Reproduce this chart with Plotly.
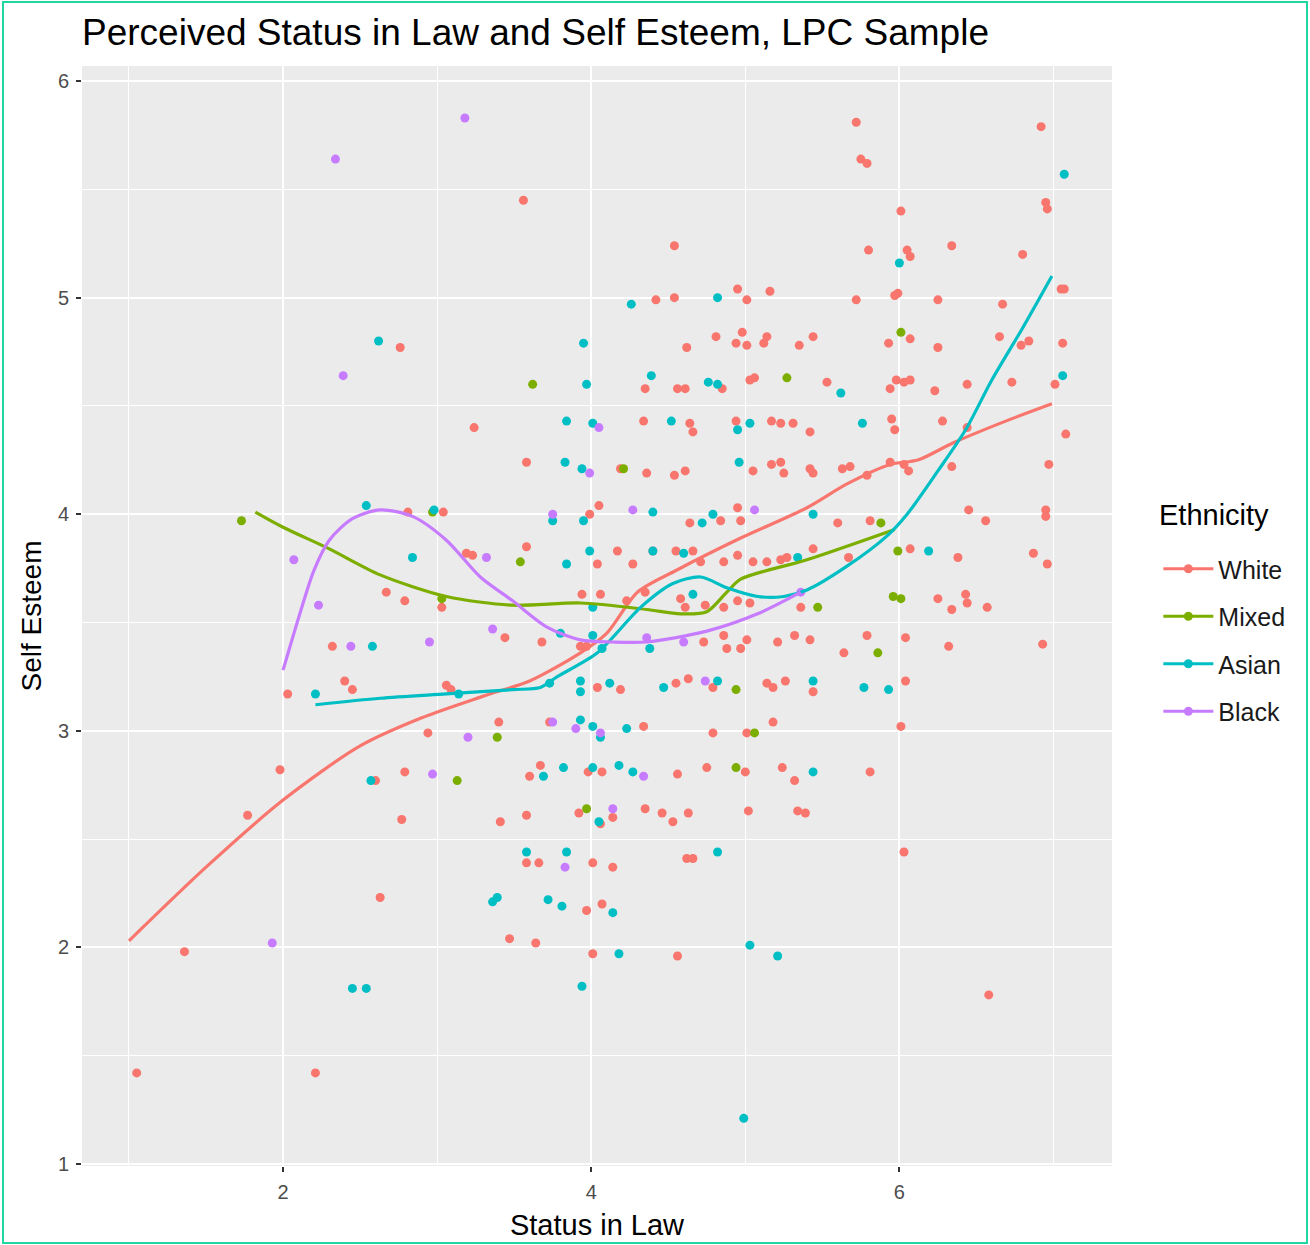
import plotly.graph_objects as go

# ---------------- data ----------------
groups = ["White", "Mixed", "Asian", "Black"]
colors = {"White": "#F8766D", "Mixed": "#7CAE00", "Asian": "#00BFC4", "Black": "#C77CFF"}

white_points = [
    (1.05, 1.42), (1.36, 1.98), (1.77, 2.61), (1.98, 2.82), (2.03, 3.17), (2.21, 1.42), (2.32, 3.39),
    (2.40, 3.23), (2.45, 3.19), (2.63, 2.23), (2.60, 2.77), (2.67, 3.64), (2.76, 4.77), (2.79, 3.60),
    (2.77, 2.59), (2.79, 2.81), (2.81, 4.01), (2.94, 2.99), (3.04, 4.01), (3.03, 3.57), (3.06, 3.21),
    (3.09, 3.19), (3.19, 3.82), (3.23, 3.81), (3.24, 4.40), (3.44, 3.43), (3.40, 3.04), (3.56, 5.45),
    (3.58, 4.24), (3.58, 3.85), (3.68, 3.41), (3.93, 3.39), (3.97, 3.39), (3.73, 3.04), (4.05, 4.04),
    (3.99, 4.00), (4.04, 3.77), (4.17, 3.83), (4.27, 3.77), (3.94, 3.63), (4.06, 3.63), (4.23, 3.60),
    (4.35, 3.64), (4.34, 3.02), (4.04, 3.20), (4.19, 3.19), (3.41, 2.58), (3.58, 2.61), (3.67, 2.84),
    (3.60, 2.79), (3.98, 2.81), (4.07, 2.81), (4.35, 2.64), (3.92, 2.62), (4.06, 2.57), (4.14, 2.60),
    (3.58, 2.39), (3.66, 2.39), (4.01, 2.39), (4.14, 2.37), (3.97, 2.17), (4.07, 2.20), (3.47, 2.04),
    (3.64, 2.02), (4.01, 1.97), (4.56, 2.80), (4.75, 2.83), (5.00, 2.81), (5.24, 2.83), (5.32, 2.77),
    (5.81, 2.81), (4.46, 2.62), (4.53, 2.58), (4.63, 2.62), (5.02, 2.63), (5.34, 2.63), (5.39, 2.62),
    (4.62, 2.41), (4.66, 2.41), (6.03, 2.44), (4.56, 1.96), (4.64, 3.96), (4.84, 3.97), (4.95, 4.03),
    (4.97, 3.97), (5.60, 3.96), (5.81, 3.97), (4.40, 3.83), (4.55, 3.83), (4.66, 3.83), (4.71, 3.78),
    (4.86, 3.78), (4.95, 3.81), (5.05, 3.78), (5.14, 3.78), (5.23, 3.79), (5.27, 3.80), (5.44, 3.84),
    (5.67, 3.80), (4.58, 3.61), (4.61, 3.57), (4.74, 3.58), (4.86, 3.57), (4.95, 3.60), (5.03, 3.59),
    (5.36, 3.57), (4.73, 3.41), (4.86, 3.44), (4.88, 3.38), (4.97, 3.38), (5.01, 3.42), (5.21, 3.41),
    (5.32, 3.44), (5.42, 3.42), (5.64, 3.36), (5.79, 3.44), (6.04, 3.43), (4.55, 3.22), (4.63, 3.24),
    (4.79, 3.20), (5.14, 3.22), (5.18, 3.20), (5.26, 3.23), (5.44, 3.18), (6.04, 3.23), (4.79, 2.99),
    (5.01, 2.99), (5.18, 3.04), (6.01, 3.02), (6.45, 4.02), (6.56, 3.97), (6.95, 4.02), (6.95, 3.99),
    (6.07, 3.84), (6.38, 3.80), (6.87, 3.82), (6.96, 3.77), (6.25, 3.61), (6.34, 3.56), (6.43, 3.63),
    (6.44, 3.59), (6.57, 3.57), (6.32, 3.39), (6.93, 3.40), (6.58, 1.78), (5.72, 5.81), (5.75, 5.64),
    (5.79, 5.62), (6.92, 5.79), (6.95, 5.44), (6.96, 5.41), (6.01, 5.40), (4.54, 5.24), (5.80, 5.22),
    (6.05, 5.22), (6.07, 5.19), (6.34, 5.24), (6.80, 5.20), (7.05, 5.04), (7.07, 5.04), (4.42, 4.99),
    (4.54, 5.00), (4.95, 5.04), (5.01, 4.99), (5.16, 5.03), (5.72, 4.99), (5.97, 5.01), (5.99, 5.02),
    (6.25, 4.99), (6.67, 4.97), (4.62, 4.77), (4.81, 4.82), (4.94, 4.79), (4.98, 4.84), (5.01, 4.78),
    (5.12, 4.79), (5.14, 4.82), (5.35, 4.78), (5.44, 4.82), (5.93, 4.79), (6.07, 4.81), (6.25, 4.77),
    (6.65, 4.82), (6.79, 4.78), (6.84, 4.80), (7.06, 4.79), (4.35, 4.58), (4.56, 4.58), (4.61, 4.58),
    (4.85, 4.58), (5.03, 4.62), (5.06, 4.63), (5.53, 4.61), (5.94, 4.58), (5.98, 4.62), (6.03, 4.61),
    (6.07, 4.62), (6.23, 4.57), (6.44, 4.60), (6.73, 4.61), (7.01, 4.60), (4.34, 4.43), (4.64, 4.42),
    (4.66, 4.38), (4.94, 4.43), (5.17, 4.43), (5.23, 4.42), (5.31, 4.42), (5.42, 4.38), (5.95, 4.44),
    (5.97, 4.39), (6.28, 4.43), (6.44, 4.40), (7.08, 4.37), (4.19, 4.21), (4.36, 4.19), (4.54, 4.18),
    (4.61, 4.20), (5.05, 4.20), (5.17, 4.23), (5.23, 4.24), (5.25, 4.19), (5.42, 4.21), (5.44, 4.19),
    (5.63, 4.21), (5.68, 4.22), (5.79, 4.18), (5.94, 4.24), (6.03, 4.23), (6.06, 4.20), (6.34, 4.22),
    (6.97, 4.23),
]

mixed_points = [
    (1.73, 3.97), (2.97, 4.01), (3.62, 4.60), (3.03, 3.61), (3.39, 2.97), (3.13, 2.77), (3.54, 3.78),
    (4.21, 4.21), (5.27, 4.63), (6.01, 4.84), (5.99, 3.83), (5.96, 3.62), (6.01, 3.61), (5.86, 3.36),
    (5.88, 3.96), (4.94, 3.19), (5.06, 2.99), (4.94, 2.83), (3.97, 2.64), (5.47, 3.57),
]

asian_points = [
    (2.62, 4.80), (2.54, 4.04), (2.84, 3.80), (2.98, 4.02), (2.58, 3.39), (2.21, 3.17), (2.57, 2.77),
    (2.45, 1.81), (2.54, 1.81), (3.14, 3.17), (3.95, 4.79), (3.97, 4.60), (3.84, 4.43), (4.01, 4.42),
    (4.26, 4.97), (4.39, 4.64), (4.82, 5.00), (4.76, 4.61), (4.82, 4.60), (4.52, 4.43), (4.95, 4.39),
    (5.03, 4.42), (4.96, 4.24), (3.83, 4.24), (3.94, 4.21), (3.75, 3.97), (3.95, 3.97), (3.84, 3.77),
    (3.99, 3.83), (4.01, 3.57), (3.80, 3.45), (4.01, 3.44), (4.07, 3.38), (3.73, 3.22), (3.93, 3.23),
    (3.93, 3.18), (4.12, 3.22), (3.93, 3.05), (4.01, 3.02), (4.23, 3.01), (4.06, 2.97), (4.40, 4.01),
    (4.72, 3.96), (4.79, 4.00), (4.40, 3.83), (4.60, 3.82), (5.44, 4.00), (5.34, 3.80), (4.66, 3.63),
    (4.38, 3.38), (4.47, 3.20), (4.82, 3.23), (5.44, 3.23), (5.77, 3.20), (5.93, 3.19), (6.19, 3.83),
    (6.00, 5.16), (5.76, 4.42), (5.62, 4.56), (7.07, 5.57), (7.06, 4.64), (3.69, 2.79), (3.82, 2.83),
    (4.01, 2.83), (4.18, 2.84), (4.27, 2.81), (3.58, 2.44), (3.84, 2.44), (3.39, 2.23), (3.36, 2.21),
    (3.72, 2.22), (3.81, 2.19), (4.14, 2.16), (4.18, 1.97), (3.94, 1.82), (4.05, 2.58), (5.44, 2.81),
    (4.82, 2.44), (5.03, 2.01), (5.21, 1.96), (4.99, 1.21),
]

black_points = [
    (3.18, 5.83), (2.34, 5.64), (2.39, 4.64), (2.07, 3.79), (2.23, 3.58), (2.44, 3.39), (2.95, 3.41),
    (2.97, 2.80), (3.20, 2.97), (3.36, 3.47), (3.32, 3.80), (1.93, 2.02), (3.75, 4.00), (3.75, 3.04),
    (3.90, 3.01), (4.06, 2.99), (4.05, 4.40), (3.99, 4.19), (5.06, 4.02), (4.27, 4.02), (4.14, 2.64),
    (3.83, 2.37), (4.34, 2.79), (4.36, 3.43), (4.60, 3.41), (4.74, 3.23), (5.36, 3.64),
]

# smoothed (loess) curves
white_curve_x = [1.0, 1.5, 2.0, 2.5, 2.9, 3.3, 3.6, 3.93, 4.1, 4.3, 4.55, 4.97, 5.4, 5.66, 5.94, 6.12, 6.35, 6.69, 6.99]
white_curve_y = [2.03, 2.37, 2.68, 2.93, 3.06, 3.16, 3.23, 3.36, 3.45, 3.64, 3.74, 3.89, 4.03, 4.14, 4.23, 4.25, 4.33, 4.43, 4.51]

mixed_curve_x = [1.82, 2.0, 2.3, 2.63, 3.06, 3.49, 3.93, 4.36, 4.58, 4.75, 4.88, 4.97, 5.4, 5.97]
mixed_curve_y = [4.01, 3.94, 3.84, 3.72, 3.62, 3.58, 3.59, 3.56, 3.54, 3.55, 3.64, 3.70, 3.79, 3.93]

asian_curve_x = [2.21, 2.63, 3.06, 3.49, 3.67, 3.78, 4.04, 4.32, 4.53, 4.71, 4.88, 5.08, 5.25, 5.40, 5.66, 5.92, 6.05, 6.25, 6.43, 6.6, 6.8, 6.99]
asian_curve_y = [3.12, 3.15, 3.17, 3.19, 3.20, 3.25, 3.36, 3.57, 3.68, 3.71, 3.66, 3.62, 3.62, 3.65, 3.76, 3.90, 4.00, 4.20, 4.39, 4.62, 4.86, 5.10]

black_curve_x = [2.0, 2.1, 2.2, 2.3, 2.45, 2.63, 2.84, 3.06, 3.28, 3.49, 3.71, 3.93, 4.14, 4.36, 4.75, 5.08, 5.36]
black_curve_y = [3.28, 3.52, 3.74, 3.88, 3.98, 4.02, 3.99, 3.88, 3.71, 3.60, 3.48, 3.42, 3.41, 3.41, 3.46, 3.54, 3.64]

x_ticks = [2, 4, 6]
y_ticks = [1, 2, 3, 4, 5, 6]

# ---------------- figure ----------------
points = {"White": white_points, "Mixed": mixed_points, "Asian": asian_points, "Black": black_points}
curves = {
    "White": (white_curve_x, white_curve_y),
    "Mixed": (mixed_curve_x, mixed_curve_y),
    "Asian": (asian_curve_x, asian_curve_y),
    "Black": (black_curve_x, black_curve_y),
}

FONT = "Liberation Sans, Arial, Helvetica, sans-serif"
fig = go.Figure()

for g in groups:
    xs = [p[0] for p in points[g]]
    ys = [p[1] for p in points[g]]
    fig.add_trace(go.Scatter(x=xs, y=ys, mode="markers", name=g, legendgroup=g, showlegend=False,
                             marker=dict(color=colors[g], size=9, line=dict(width=0))))

for g in groups:
    cx, cy = curves[g]
    fig.add_trace(go.Scatter(x=cx, y=cy, mode="lines", name=g, legendgroup=g, showlegend=False,
                             line=dict(color=colors[g], width=3.2, shape="spline", smoothing=0.8)))

# legend entries
for g in groups:
    fig.add_trace(go.Scatter(x=[None], y=[None], mode="lines+markers", name=g, legendgroup=g,
                             showlegend=True, line=dict(color=colors[g], width=3.2),
                             marker=dict(color=colors[g], size=9)))

fig.update_layout(
    width=1310, height=1245,
    margin=dict(l=82, r=198, t=66, b=79),
    paper_bgcolor="white",
    plot_bgcolor="#EBEBEB",
    font=dict(family=FONT, color="#000000"),
    title=dict(text="Perceived Status in Law and Self Esteem, LPC Sample",
               x=0, xref="paper", xanchor="left", y=1 - 32 / 1245, yanchor="middle",
               font=dict(size=37, color="#000000", family=FONT)),
    showlegend=True,
    legend=dict(
        font=dict(size=25, color="#1a1a1a"),
        x=1.045, xanchor="left", y=(1166 - 546) / 1100, yanchor="top",
        tracegroupgap=12, itemwidth=50, bgcolor="rgba(0,0,0,0)",
    ),
    xaxis=dict(
        range=[0.695, 7.38], tickvals=x_ticks, ticktext=[str(v) for v in x_ticks],
        showgrid=True, gridcolor="white", gridwidth=2, zeroline=False,
        ticks="outside", ticklen=5, tickwidth=1.5, tickcolor="#333333",
        tickfont=dict(size=20, color="#4D4D4D"), ticklabelstandoff=3,
        minor=dict(tickvals=[1, 3, 5, 7], showgrid=True, gridcolor="white", gridwidth=1, ticks=""),
        title=dict(text="Status in Law", font=dict(size=29, color="#000000"), standoff=12),
        showline=False, automargin=False,
    ),
    yaxis=dict(
        range=[0.99, 6.07], tickvals=y_ticks, ticktext=[str(v) for v in y_ticks],
        showgrid=True, gridcolor="white", gridwidth=2, zeroline=False,
        ticks="outside", ticklen=5, tickwidth=1.5, tickcolor="#333333",
        tickfont=dict(size=20, color="#4D4D4D"), ticklabelstandoff=3,
        minor=dict(tickvals=[1.5, 2.5, 3.5, 4.5, 5.5], showgrid=True, gridcolor="white", gridwidth=1, ticks=""),
        title=dict(text="Self Esteem", font=dict(size=28, color="#000000"), standoff=8),
        showline=False, automargin=False,
    ),
    annotations=[dict(text="Ethnicity", xref="paper", yref="paper",
                      x=(1157 - 82) / 1030, xanchor="left", y=(1166 - 515) / 1100, yanchor="middle",
                      showarrow=False, font=dict(size=29, color="#000000", family=FONT))],
)

# outer frame of the image
fig.add_shape(type="rect", xref="paper", yref="paper",
              x0=(3 - 82) / 1030, x1=(1307 - 82) / 1030,
              y0=(1166 - 1243) / 1100, y1=(1166 - 2) / 1100,
              line=dict(color="#22D6A2", width=2), fillcolor="rgba(0,0,0,0)", layer="above")

fig.write_html("out.html")
